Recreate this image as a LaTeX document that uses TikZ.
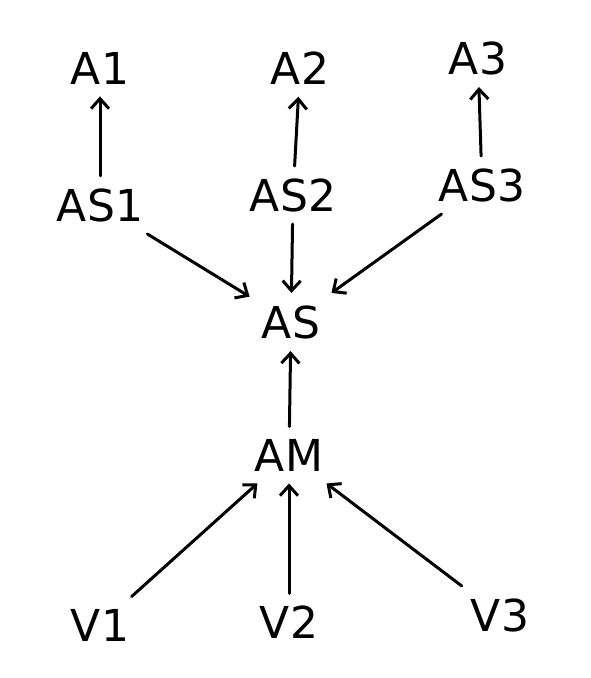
\documentclass[tikz,border=0pt]{standalone}
\usepackage{fontspec}
\setmainfont{DejaVu Sans}
\usetikzlibrary{arrows.meta}

\begin{document}
\begin{tikzpicture}[
  x=0.5pt, y=-0.5pt,
  lbl/.style={inner sep=6pt, font=\fontsize{22}{26}\selectfont},
  arr/.style={-{Straight Barb[length=5pt, width=9pt]}, line width=1.5pt, line cap=round}
]
\useasboundingbox (0,0) rectangle (590,678);

% top row
\node[lbl] (a1) at (100,68) {A1};
\node[lbl] (a2) at (300,68) {A2};
\node[lbl] (a3) at (478,58) {A3};

% second row
\node[lbl] (as1) at (100,205) {AS1};
\node[lbl] (as2) at (293,195) {AS2};
\node[lbl] (as3) at (482,185) {AS3};

\node[lbl] (as) at (291,322) {AS};
\node[lbl] (am) at (289,455) {AM};

% bottom row
\node[lbl] (v1) at (100,625) {V1};
\node[lbl] (v2) at (289,622) {V2};
\node[lbl] (v3) at (500,615) {V3};

\draw[arr] (as1) -- (a1);
\draw[arr] (as2) -- (a2);
\draw[arr] (as3) -- (a3);

\draw[arr] (as1) -- (as);
\draw[arr] (as2) -- (as);
\draw[arr] (as3) -- (as);

\draw[arr] (am) -- (as);

\draw[arr] (v1) -- (am);
\draw[arr] (v2) -- (am);
\draw[arr] (v3) -- (am);
\end{tikzpicture}
\end{document}
